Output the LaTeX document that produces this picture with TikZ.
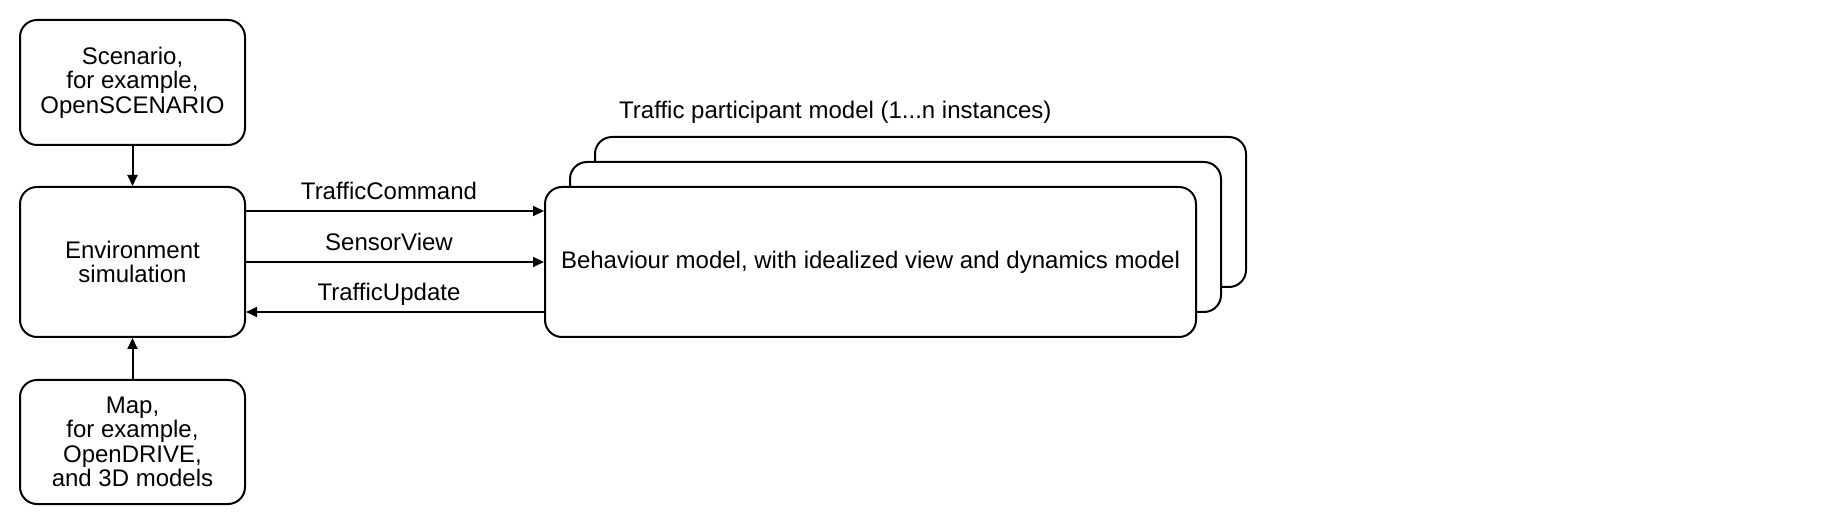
\documentclass[tikz,border=0pt]{standalone}
\usepackage{fontspec}
\setmainfont{Liberation Sans}
\usetikzlibrary{arrows.meta}
\begin{document}
\begin{tikzpicture}[x=1pt,y=-1pt,
 box/.style={draw, line width=2pt, rounded corners=17pt, fill=white, align=center,
   font=\fontsize{24}{24.5}\selectfont, inner sep=0pt},
 lbl/.style={font=\fontsize{24}{24.5}\selectfont, inner sep=0pt},
 arrlbl/.style={lbl, anchor=base, midway, xshift=-6pt, yshift=11pt},
 arr/.style={line width=2pt, -{Triangle[length=11pt,width=10pt]}}]
\useasboundingbox (0,0) rectangle (1831,526);
\node[box, minimum width=225pt, minimum height=125pt] (scen) at (132.5,82.5) {Scenario,\\for example,\\OpenSCENARIO};
\node[box, minimum width=225pt, minimum height=150pt] (env) at (132.5,262) {Environment\\simulation};
\node[box, minimum width=225pt, minimum height=124pt] (map) at (132.5,442) {Map,\\for example,\\OpenDRIVE,\\and 3D models};
\node[box, minimum width=651pt, minimum height=150pt] (beh3) at (920.5,212) {};
\node[box, minimum width=651pt, minimum height=150pt] (beh2) at (895.5,237) {};
\node[box, minimum width=651pt, minimum height=150pt] (beh) at (870.5,262) {Behaviour model, with idealized view and dynamics model};
\node[lbl, anchor=west] (tpm) at (619,112.5) {Traffic participant model (1...n instances)};
\draw[arr] (scen.south) -- (env.north);
\draw[arr] (map.north) -- (env.south);
\draw[arr] ([yshift=51pt]env.east) -- node[arrlbl] {TrafficCommand} ([yshift=51pt]beh.west);
\draw[arr] (env.east) -- node[arrlbl] {SensorView} (beh.west);
\draw[arr] ([yshift=-50pt]beh.west) -- node[arrlbl] {TrafficUpdate} ([yshift=-50pt]env.east);
\end{tikzpicture}
\end{document}
